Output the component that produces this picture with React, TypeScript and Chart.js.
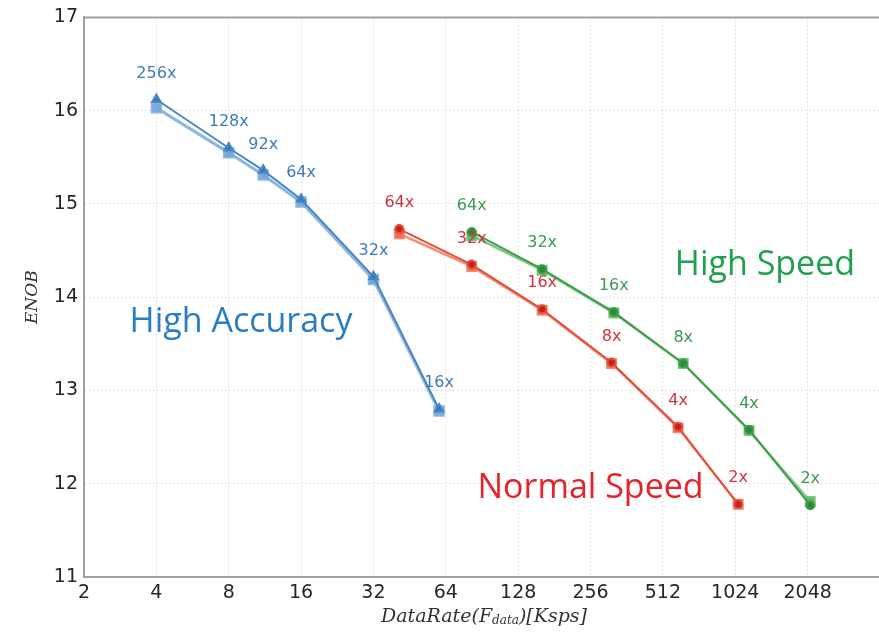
import React, { useEffect, useRef } from "react";
import { Chart, registerables } from "chart.js";
Chart.register(...registerables);

const xTickValues = [2, 4, 8, 16, 32, 64, 128, 256, 512, 1024, 2048];
const xTickLabels = ["2", "4", "8", "16", "32", "64", "128", "256", "512", "1024", "2048"];
const yTickValues = [11, 12, 13, 14, 15, 16, 17];

const accuracyRates = [4, 8, 11.13, 16, 32, 60];
const accuracyEnobA = [16.12, 15.6, 15.36, 15.05, 14.22, 12.8];
const accuracyEnobB = [16.03, 15.55, 15.31, 15.02, 14.19, 12.78];
const accuracyLabels = ["256x", "128x", "92x", "64x", "32x", "16x"];

const normalRates = [41, 82, 161, 313, 592, 1053];
const normalEnobA = [14.73, 14.35, 13.87, 13.3, 12.61, 11.78];
const normalEnobB = [14.68, 14.33, 13.86, 13.29, 12.6, 11.78];
const normalLabels = ["64x", "32x", "16x", "8x", "4x", "2x"];

const speedRates = [82, 161, 320, 622, 1168, 2100];
const speedEnobA = [14.7, 14.3, 13.84, 13.29, 12.58, 11.77];
const speedEnobB = [14.66, 14.29, 13.83, 13.29, 12.57, 11.81];
const speedLabels = ["64x", "32x", "16x", "8x", "4x", "2x"];

const regionNames = ["High Accuracy", "Normal Speed", "High Speed"];
const regionRates = [9.0, 256, 1361];
const regionEnob = [13.73, 11.95, 14.34];
const regionColors = ["#2a7cc4", "#e3242b", "#1fa04e"];

const labelColors = ["#3e7cb8", "#cf3343", "#3a9a52"];

const pts = (xs: number[], ys: number[]) => xs.map((x, i) => ({ x, y: ys[i] }));

const annotationPlugin = {
  id: "annotations",
  afterDatasetsDraw(chart: any) {
    const { ctx, chartArea, scales } = chart;
    ctx.save();
    // top spine
    ctx.strokeStyle = "#a0a0a0";
    ctx.lineWidth = 2;
    ctx.beginPath();
    ctx.moveTo(chartArea.left, chartArea.top);
    ctx.lineTo(chartArea.right, chartArea.top);
    ctx.stroke();

    // point labels
    const groups = [
      { idx: 0, labels: accuracyLabels },
      { idx: 2, labels: normalLabels },
      { idx: 4, labels: speedLabels },
    ];
    ctx.font = "16px 'DejaVu Sans'";
    ctx.textAlign = "center";
    ctx.textBaseline = "middle";
    groups.forEach((g, gi) => {
      const meta = chart.getDatasetMeta(g.idx);
      ctx.fillStyle = labelColors[gi];
      g.labels.forEach((t, i) => {
        const p = meta.data[i];
        ctx.fillText(t, p.x, p.y - 26);
      });
    });

    // region labels
    ctx.font = "34px 'Open Sans'";
    regionNames.forEach((n, i) => {
      ctx.fillStyle = regionColors[i];
      ctx.fillText(
        n,
        scales.x.getPixelForValue(regionRates[i]),
        scales.y.getPixelForValue(regionEnob[i])
      );
    });

    // y title
    ctx.fillStyle = "#333";
    ctx.save();
    ctx.translate(33, (chartArea.top + chartArea.bottom) / 2);
    ctx.rotate(-Math.PI / 2);
    ctx.font = "italic 17px 'DejaVu Serif'";
    ctx.fillText("ENOB", 0, 0);
    ctx.restore();

    // x title with subscript
    const big = "italic 19px 'DejaVu Serif'";
    const small = "italic 12px 'DejaVu Serif'";
    const parts = [
      { t: "DataRate(F", f: big, dy: 0 },
      { t: "data", f: small, dy: 4 },
      { t: ")[Ksps]", f: big, dy: 0 },
    ];
    let total = 0;
    parts.forEach((p) => {
      ctx.font = p.f;
      total += ctx.measureText(p.t).width;
    });
    let x = 484 - total / 2;
    ctx.textAlign = "left";
    parts.forEach((p) => {
      ctx.font = p.f;
      ctx.fillText(p.t, x, 617 + p.dy);
      x += ctx.measureText(p.t).width;
    });
    ctx.restore();
  },
};

export default function App() {
  const ref = useRef<HTMLCanvasElement>(null);
  useEffect(() => {
    if (!ref.current) return;
    const chart = new Chart(ref.current, {
      type: "line",
      data: {
        datasets: [
          {
            label: "High Accuracy A",
            data: pts(accuracyRates, accuracyEnobA),
            borderColor: "#4a86c4",
            backgroundColor: "#3a78b8",
            borderWidth: 2,
            pointStyle: "triangle",
            pointRadius: 5,
          },
          {
            label: "High Accuracy B",
            data: pts(accuracyRates, accuracyEnobB),
            borderColor: "rgba(120,172,218,0.85)",
            backgroundColor: "rgba(110,165,215,0.9)",
            borderWidth: 3,
            pointStyle: "rect",
            pointRadius: 6,
          },
          {
            label: "Normal Speed A",
            data: pts(normalRates, normalEnobA),
            borderColor: "#e0503a",
            backgroundColor: "#c81e1e",
            borderWidth: 2,
            pointStyle: "circle",
            pointRadius: 4,
          },
          {
            label: "Normal Speed B",
            data: pts(normalRates, normalEnobB),
            borderColor: "rgba(242,120,90,0.85)",
            backgroundColor: "#f26a48",
            borderWidth: 2.5,
            pointStyle: "rect",
            pointRadius: 6,
          },
          {
            label: "High Speed A",
            data: pts(speedRates, speedEnobA),
            borderColor: "#3f9e4c",
            backgroundColor: "#2a8a3c",
            borderWidth: 2,
            pointStyle: "circle",
            pointRadius: 4,
          },
          {
            label: "High Speed B",
            data: pts(speedRates, speedEnobB),
            borderColor: "rgba(105,190,105,0.85)",
            backgroundColor: "#62ba62",
            borderWidth: 2.5,
            pointStyle: "rect",
            pointRadius: 6,
          },
        ],
      },
      options: {
        animation: false,
        responsive: false,
        maintainAspectRatio: false,
        layout: { padding: { top: 16, left: 1, right: 0, bottom: 0 } },
        plugins: { legend: { display: false }, tooltip: { enabled: false } },
        scales: {
          x: {
            type: "logarithmic",
            min: 2,
            max: 4096,
            afterBuildTicks: (s: any) => {
              s.ticks = xTickValues.map((v) => ({ value: v }));
            },
            afterFit: (s: any) => {
              s.height = 56;
            },
            ticks: {
              autoSkip: false,
              maxRotation: 0,
              padding: 5,
              color: "#262626",
              font: { family: "'DejaVu Sans'", size: 19 },
              callback: (v: any) => {
                const i = xTickValues.indexOf(Number(v));
                return i >= 0 ? xTickLabels[i] : "";
              },
            },
            grid: {
              color: "#c8c8c8",
              lineWidth: (c: any) =>
                c.tick && xTickValues.indexOf(c.tick.value) >= 0 ? 1 : 0,
              drawTicks: false,
            },
            border: { display: true, color: "#a0a0a0", width: 2, dash: [1, 3] },
          },
          y: {
            type: "linear",
            min: 11,
            max: 17,
            afterBuildTicks: (s: any) => {
              s.ticks = yTickValues.map((v) => ({ value: v }));
            },
            afterFit: (s: any) => {
              s.width = 83;
            },
            ticks: {
              padding: 6,
              color: "#262626",
              font: { family: "'DejaVu Sans'", size: 19 },
            },
            grid: { color: "#c8c8c8", lineWidth: 1, drawTicks: false },
            border: { display: true, color: "#a0a0a0", width: 2, dash: [1, 3] },
          },
        },
      },
      plugins: [annotationPlugin],
    });
    return () => chart.destroy();
  }, []);
  return (
    <div style={{ position: "fixed", left: 0, top: 0, width: 879, height: 633, overflow: "hidden", background: "#fff" }}>
      <canvas ref={ref} width={889} height={633} style={{ width: 889, height: 633 }} />
    </div>
  );
}
